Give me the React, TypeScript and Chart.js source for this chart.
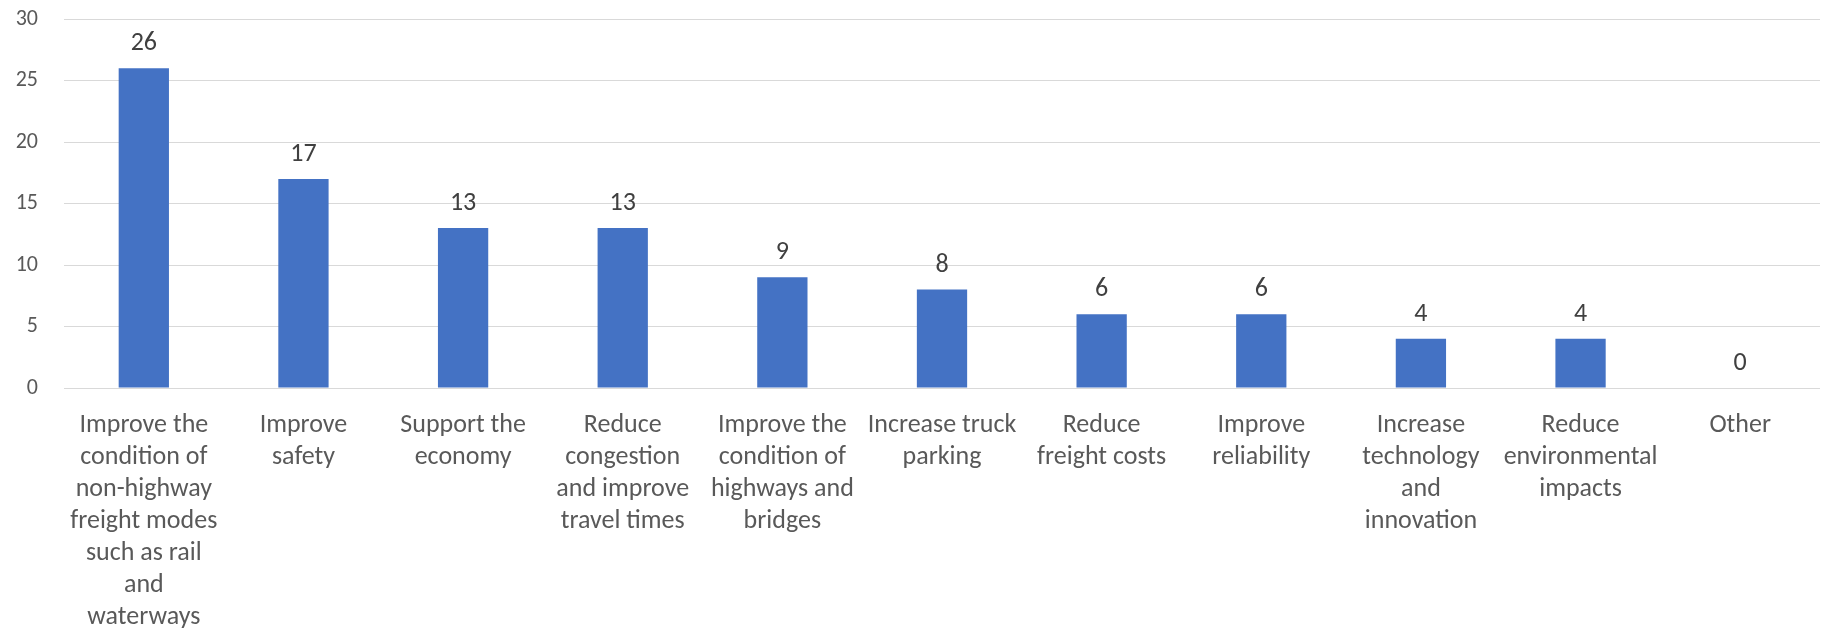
import React, { useEffect, useRef } from "react";
import { Chart, registerables } from "chart.js";

Chart.register(...registerables);

const categories: string[][] = [
  ["Improve the", "condition of", "non-highway", "freight modes", "such as rail", "and", "waterways"],
  ["Improve", "safety"],
  ["Support the", "economy"],
  ["Reduce", "congestion", "and improve", "travel times"],
  ["Improve the", "condition of", "highways and", "bridges"],
  ["Increase truck", "parking"],
  ["Reduce", "freight costs"],
  ["Improve", "reliability"],
  ["Increase", "technology", "and", "innovation"],
  ["Reduce", "environmental", "impacts"],
  ["Other"],
];

const values: number[] = [26, 17, 13, 13, 9, 8, 6, 6, 4, 4, 0];

const yMin = 0;
const yMax = 30;
const yStep = 5;

const FONT = "Carlito, Lato, 'Open Sans', sans-serif";

const dataLabelsPlugin = {
  id: "dataLabels",
  afterDatasetsDraw(chart: any) {
    const ctx = chart.ctx;
    const meta = chart.getDatasetMeta(0);
    ctx.save();
    ctx.font = `26px ${FONT}`;
    ctx.fillStyle = "#404040";
    ctx.textAlign = "center";
    ctx.textBaseline = "alphabetic";
    meta.data.forEach((bar: any, i: number) => {
      const v = chart.data.datasets[0].data[i];
      ctx.fillText(String(v), bar.x, bar.y - 18);
    });
    ctx.restore();
  },
};

export default function App() {
  const ref = useRef<HTMLCanvasElement | null>(null);

  useEffect(() => {
    if (!ref.current) return;
    const chart = new Chart(ref.current, {
      type: "bar",
      data: {
        labels: categories,
        datasets: [
          {
            data: values,
            backgroundColor: "#4472C4",
            borderWidth: 0,
            barPercentage: 0.315,
            categoryPercentage: 1,
          },
        ],
      },
      options: {
        animation: false,
        responsive: false,
        devicePixelRatio: 1,
        layout: { padding: { top: 19, right: 4, left: 0, bottom: 0 } },
        plugins: {
          legend: { display: false },
          tooltip: { enabled: false },
        },
        scales: {
          x: {
            grid: { display: false },
            border: { display: false },
            ticks: {
              color: "#595959",
              font: { family: FONT, size: 26, lineHeight: 32 / 26 },
              padding: 13,
              maxRotation: 0,
              autoSkip: false,
            },
            afterFit(scale: any) {
              scale.height = 241;
            },
          },
          y: {
            min: yMin,
            max: yMax,
            grid: {
              color: "#D9D9D9",
              lineWidth: 1,
              drawTicks: true,
              tickLength: 26,
              tickColor: "rgba(0,0,0,0)",
            },
            border: { display: false },
            ticks: {
              stepSize: yStep,
              color: "#595959",
              font: { family: FONT, size: 22 },
              padding: 0,
            },
            afterFit(scale: any) {
              scale.width = 64;
            },
          },
        },
      },
      plugins: [dataLabelsPlugin],
    });
    return () => chart.destroy();
  }, []);

  return (
    <div style={{ position: "fixed", left: 0, top: 0, width: 1824, height: 629, background: "#fff" }}>
      <canvas ref={ref} width={1824} height={629} style={{ display: "block" }} />
    </div>
  );
}
